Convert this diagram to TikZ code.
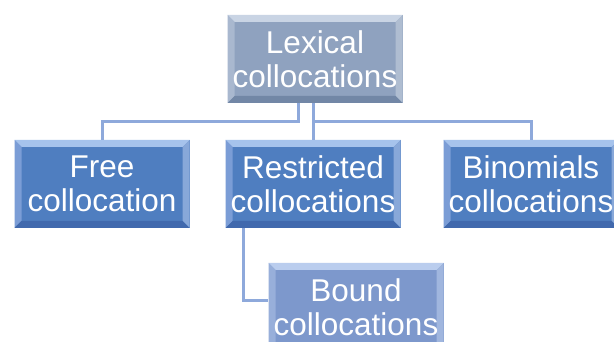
\documentclass[tikz,border=0pt]{standalone}
\usepackage{fontspec}
\setmainfont{Liberation Sans}
\usepackage{xcolor}
\usepackage{tikz}
\usetikzlibrary{positioning}
\usetikzlibrary{calc}

\definecolor{topbase}{HTML}{8FA2BF}
\definecolor{toplight}{HTML}{C9D4E4}
\definecolor{topside}{HTML}{A9B8CF}
\definecolor{topdark}{HTML}{7287A6}
\definecolor{rowbase}{HTML}{4F7EC0}
\definecolor{rowlight}{HTML}{A6C3EC}
\definecolor{rowside}{HTML}{7B9DD6}
\definecolor{rowdark}{HTML}{4169AD}
\definecolor{boundbase}{HTML}{7D98CC}
\definecolor{boundlight}{HTML}{BACDEE}
\definecolor{boundside}{HTML}{98AFDA}
\definecolor{bounddark}{HTML}{6480B8}
\definecolor{linkblue}{HTML}{8EA9DB}

\tikzset{
  bevel/.style n args={4}{fill=#1,
    path picture={
      \path (path picture bounding box.north west) coordinate (bv-nw)
            (path picture bounding box.north east) coordinate (bv-ne)
            (path picture bounding box.south west) coordinate (bv-sw)
            (path picture bounding box.south east) coordinate (bv-se);
      \fill[#2] (bv-nw) -- (bv-ne) -- ([shift={(-7pt,-7pt)}]bv-ne) -- ([shift={(7pt,-7pt)}]bv-nw) -- cycle;
      \fill[#3] (bv-nw) -- (bv-sw) -- ([shift={(7pt,7pt)}]bv-sw) -- ([shift={(7pt,-7pt)}]bv-nw) -- cycle;
      \fill[#2!70!#4] (bv-ne) -- (bv-se) -- ([shift={(-7pt,7pt)}]bv-se) -- ([shift={(-7pt,-7pt)}]bv-ne) -- cycle;
      \fill[#4] (bv-sw) -- (bv-se) -- ([shift={(-7pt,7pt)}]bv-se) -- ([shift={(7pt,7pt)}]bv-sw) -- cycle;
    }},
  levelbox/.style={inner sep=0pt, minimum width=175pt, minimum height=88pt, align=center,
    text=white, font=\fontsize{31.5}{34}\selectfont},
  link/.style={draw=linkblue, line width=3pt}
}

\begin{document}
\begin{tikzpicture}[x=1pt,y=-1pt]

\clip (0,0) rectangle (614,342);
\fill[white] (0,0) rectangle (614,342);

% Top
\node [levelbox, bevel={topbase}{toplight}{topside}{topdark}] (lexical) at (315,59) {Lexical\\collocations};

% Row 2
\node [levelbox, bevel={rowbase}{rowlight}{rowside}{rowdark}] (free) at (102,184) {Free\\collocation};
\node [levelbox, bevel={rowbase}{rowlight}{rowside}{rowdark}] (restricted) at (313,184) {Restricted\\collocations};
\node [levelbox, bevel={rowbase}{rowlight}{rowside}{rowdark}] (binomials) at (531,184) {Binomials\\collocations};

% Row 3
\node [levelbox, bevel={boundbase}{boundlight}{boundside}{bounddark}] (bound) at (356,307) {Bound\\collocations};

% Links
\draw [link] ([xshift=-17pt]lexical.south) -- ++(0,18) -| (free.north);
\draw [link] (lexical.south -| restricted.north) -- (restricted.north);
\draw [link] ([yshift=-18pt]lexical.south -| restricted.north) -| (binomials.north);
\draw [link] ([xshift=18pt]restricted.south west) |- ([yshift=6pt]bound.west);

\end{tikzpicture}
\end{document}
